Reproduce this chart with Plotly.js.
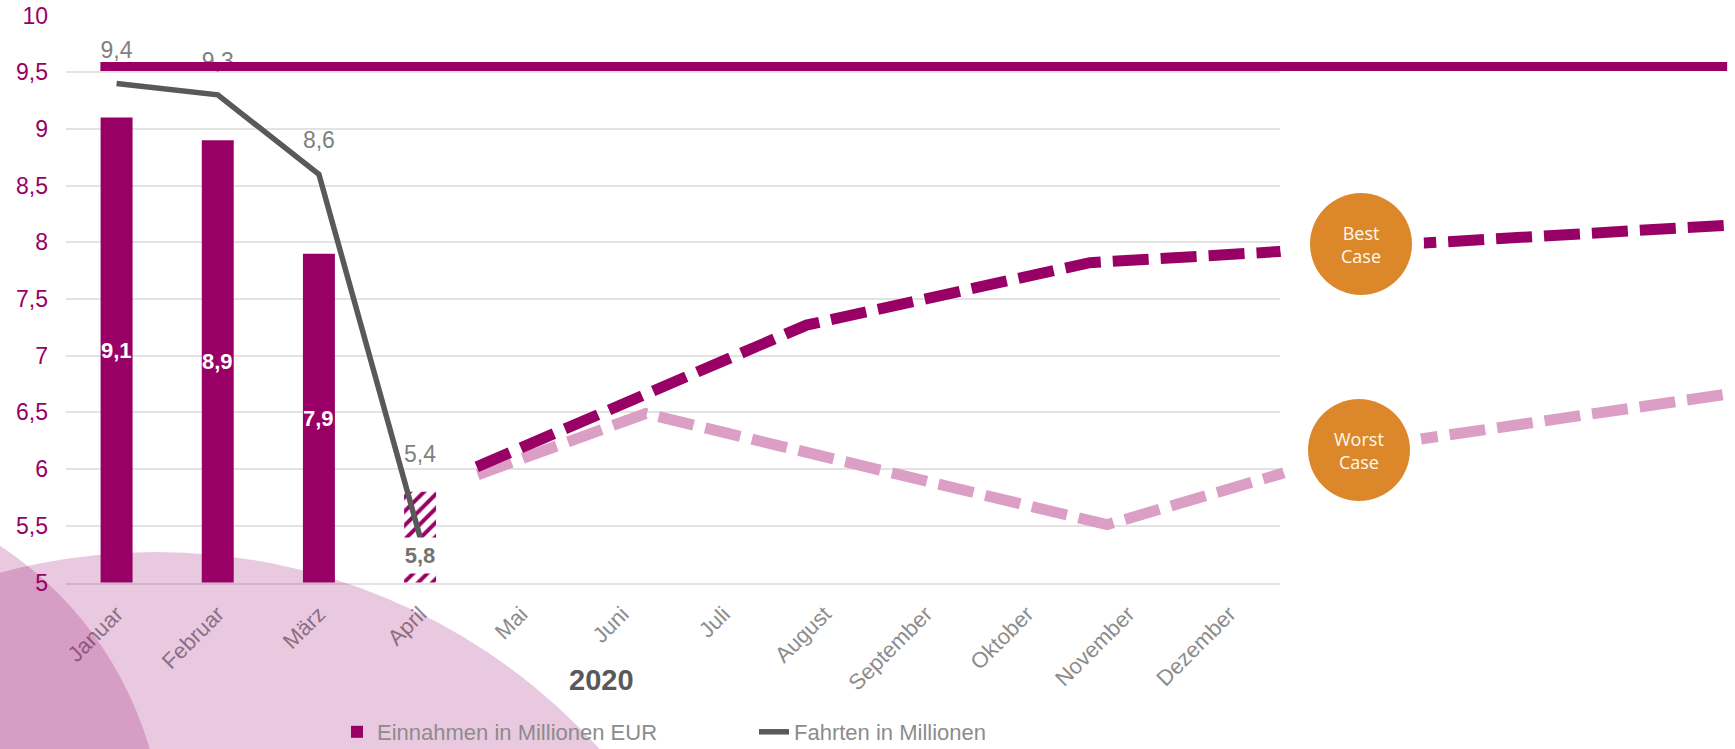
<!DOCTYPE html>
<html>
<head>
<meta charset="utf-8">
<script src="https://cdn.plot.ly/plotly-3.0.1.min.js"></script>
<style>html,body{margin:0;padding:0;background:#fff;overflow:hidden;}#chart{width:1735px;height:749px;}</style>
</head>
<body>
<div id="chart"></div>
<script>
// ---- data ----
const months = ['Januar','Februar','März','April','Mai','Juni','Juli','August','September','Oktober','November','Dezember'];
const revenueMonths = ['Januar','Februar','März','April'];
const revenue = [9.1, 8.9, 7.9, 5.8];          // Einnahmen in Millionen EUR
const trips = [9.4, 9.3, 8.6, 5.4];            // Fahrten in Millionen
const bestX = [3.56, 6.82, 9.62, 15.91];       // month index positions
const bestY = [6.02, 7.27, 7.82, 8.15];
const worstX = [3.57, 5.23, 9.79, 12.47, 15.91];
const worstY = [5.95, 6.49, 5.51, 6.21, 6.66];
const refX = [-0.16, 15.92];
const refY = [9.55, 9.55];
const yTicks = [5, 5.5, 6, 6.5, 7, 7.5, 8, 8.5, 9, 9.5, 10];

// ---- style ----
const W = 1735, H = 749;
const PURPLE = '#990066', PINK = '#DB9EC4', GRAY = '#595959', ORANGE = '#DC882A';
const FONT = 'Liberation Sans, Arial, sans-serif';
const fmt = v => String(v).replace('.', ',');
const px = x => x / W, py = y => 1 - y / H;
const plotLeft = 66, plotRight = 1280;
const catW = (plotRight - plotLeft) / months.length;
const x2max = -0.5 + (W - plotLeft) / catW;
const tripLabelOffset = [0.28, 0.28, 0.28, 0.71];
const barLabelShift = [0, 0, 0, -18];

const traces = [
  {
    type: 'bar', x: revenueMonths, y: revenue, name: 'Einnahmen in Millionen EUR',
    width: 0.316, xaxis: 'x', yaxis: 'y',
    marker: {
      color: PURPLE,
      line: {width: 0},
      pattern: {shape: revenue.map((v, i) => i < 3 ? '' : '/'), fgcolor: PURPLE, bgcolor: '#ffffff', size: 10, solidity: 0.4, fillmode: 'replace'}
    },
    hoverinfo: 'skip'
  },
  {
    type: 'scatter', mode: 'lines', x: revenueMonths, y: trips, name: 'Fahrten in Millionen',
    xaxis: 'x', yaxis: 'y', line: {color: GRAY, width: 5.5}, hoverinfo: 'skip'
  },
  {
    type: 'scatter', mode: 'text', x: revenueMonths, y: trips.map((v, i) => v + tripLabelOffset[i]),
    text: trips.map(fmt), textposition: 'middle center', showlegend: false,
    textfont: {family: FONT, size: 23, color: '#808080'}, xaxis: 'x', yaxis: 'y', hoverinfo: 'skip'
  },
  {
    type: 'scatter', mode: 'lines', x: worstX, y: worstY, showlegend: false, xaxis: 'x2', yaxis: 'y2',
    line: {color: PINK, width: 11, dash: '36px,12px'}, hoverinfo: 'skip'
  },
  {
    type: 'scatter', mode: 'lines', x: bestX, y: bestY, showlegend: false, xaxis: 'x2', yaxis: 'y2',
    line: {color: PURPLE, width: 11, dash: '36px,12px'}, hoverinfo: 'skip'
  },
  {
    type: 'scatter', mode: 'lines', x: refX, y: refY, showlegend: false, xaxis: 'x2', yaxis: 'y2',
    line: {color: PURPLE, width: 9}, hoverinfo: 'skip'
  }
];

const annotations = revenue.map((v, i) => ({
  xref: 'x', yref: 'y', x: revenueMonths[i], y: (5 + v) / 2, yshift: barLabelShift[i],
  xanchor: 'center', yanchor: 'middle',
  text: '<b>' + fmt(v) + '</b>', showarrow: false,
  font: {family: FONT, size: 22, color: i < 3 ? '#ffffff' : '#737373'},
  bgcolor: i < 3 ? 'rgba(0,0,0,0)' : '#ffffff', borderpad: i < 3 ? 0 : 5, width: i < 3 ? undefined : 32
}));
annotations.push(
  {xref: 'paper', yref: 'paper', x: px(601), y: py(680), xanchor: 'center', yanchor: 'middle',
   text: '<b>2020</b>', showarrow: false, font: {family: FONT, size: 29, color: GRAY}},
  {xref: 'paper', yref: 'paper', x: px(1361), y: py(244), xanchor: 'center', yanchor: 'middle',
   text: 'Best<br>Case', showarrow: false, font: {family: 'Open Sans, sans-serif', size: 18, color: '#fff8ee'}},
  {xref: 'paper', yref: 'paper', x: px(1359), y: py(450), xanchor: 'center', yanchor: 'middle',
   text: 'Worst<br>Case', showarrow: false, font: {family: 'Open Sans, sans-serif', size: 18, color: '#fff8ee'}}
);

function circ(cx, cy, r, fill) {
  return {type: 'circle', xref: 'paper', yref: 'paper', x0: px(cx - r), x1: px(cx + r), y0: py(cy + r), y1: py(cy - r),
          fillcolor: fill, line: {width: 0}, layer: 'above'};
}
const shapes = [
  circ(1352, 244, 72, '#ffffff'), circ(1361, 244, 51, ORANGE),
  circ(1351, 450, 71, '#ffffff'), circ(1359, 450, 51, ORANGE),
  circ(156, 1150, 598, 'rgba(153,0,102,0.21)'),
  circ(-200, 850, 364, 'rgba(153,0,102,0.21)')
];

const layout = {
  width: W, height: H,
  margin: {l: 0, r: 0, t: 0, b: 0, autoexpand: false},
  paper_bgcolor: '#ffffff', plot_bgcolor: 'rgba(0,0,0,0)',
  separators: ', ',
  font: {family: FONT},
  showlegend: true,
  legend: {orientation: 'h', xref: 'container', yref: 'container', x: px(337), xanchor: 'left', y: py(732), yanchor: 'middle',
           font: {family: FONT, size: 22, color: '#8c8c8c'}, bgcolor: 'rgba(0,0,0,0)',
           entrywidth: 372, entrywidthmode: 'pixels', itemwidth: 30},
  xaxis: {domain: [px(plotLeft), px(plotRight)], type: 'category', categoryorder: 'array', categoryarray: months,
          range: [-0.5, 11.5], tickvals: months, ticktext: months, tickangle: -45, showgrid: false,
          showline: true, linecolor: '#e3e3e3', linewidth: 2, ticks: '', ticklabelstandoff: 8,
          tickfont: {family: FONT, size: 22, color: '#8c8c8c'}, fixedrange: true, automargin: false},
  yaxis: {domain: [py(582.5), py(15.5)], range: [5, 10], tickvals: yTicks, ticktext: yTicks.map(fmt),
          showgrid: true, gridcolor: '#e3e3e3', gridwidth: 2, zeroline: false, ticks: '',
          ticklabelstandoff: 17, tickfont: {family: FONT, size: 23, color: PURPLE}, fixedrange: true, automargin: false},
  xaxis2: {domain: [px(plotLeft), 1], range: [-0.5, x2max], anchor: 'y2', visible: false, fixedrange: true},
  yaxis2: {domain: [py(582.5), py(15.5)], range: [5, 10], anchor: 'x2', visible: false, fixedrange: true},
  annotations: annotations,
  shapes: shapes
};

Plotly.newPlot('chart', traces, layout, {displayModeBar: false, staticPlot: true});
</script>
</body>
</html>
